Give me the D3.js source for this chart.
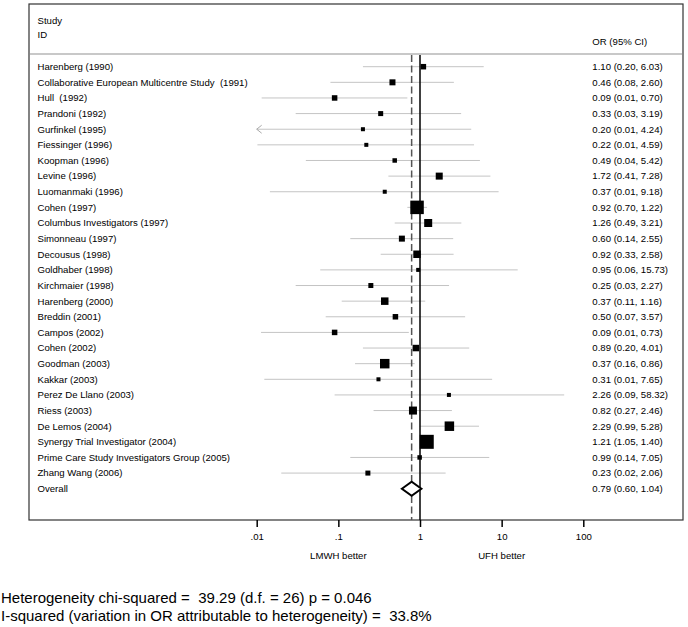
<!DOCTYPE html>
<html><head><meta charset="utf-8">
<script src="https://cdn.jsdelivr.net/npm/d3@7"></script>
<style>
html,body{margin:0;padding:0;background:#fff;}
text{font-family:"Liberation Sans",Arial,sans-serif;white-space:pre;}
</style></head>
<body><svg id="c" width="688" height="627"></svg>
<script>
const studies = ["Harenberg (1990)","Collaborative European Multicentre Study  (1991)","Hull  (1992)","Prandoni (1992)","Gurfinkel (1995)","Fiessinger (1996)","Koopman (1996)","Levine (1996)","Luomanmaki (1996)","Cohen (1997)","Columbus Investigators (1997)","Simonneau (1997)","Decousus (1998)","Goldhaber (1998)","Kirchmaier (1998)","Harenberg (2000)","Breddin (2001)","Campos (2002)","Cohen (2002)","Goodman (2003)","Kakkar (2003)","Perez De Llano (2003)","Riess (2003)","De Lemos (2004)","Synergy Trial Investigator (2004)","Prime Care Study Investigators Group (2005)","Zhang Wang (2006)"];
const or = [1.10,0.46,0.09,0.33,0.20,0.22,0.49,1.72,0.37,0.92,1.26,0.60,0.92,0.95,0.25,0.37,0.50,0.09,0.89,0.37,0.31,2.26,0.82,2.29,1.21,0.99,0.23];
const lo = [0.20,0.08,0.0115,0.03,0.0096,0.0102,0.04,0.41,0.0145,0.70,0.49,0.14,0.33,0.06,0.03,0.11,0.07,0.0113,0.20,0.16,0.0124,0.09,0.27,0.99,1.05,0.14,0.02];
const hi = [6.03,2.60,0.70,3.19,4.24,4.59,5.42,7.28,9.18,1.22,3.21,2.55,2.58,15.73,2.27,1.16,3.57,0.73,4.01,0.86,7.65,58.32,2.46,5.28,1.40,7.05,2.06];
const weights = [2.34,2.78,2.34,1.93,1.24,1.24,1.56,3.78,1.24,14.07,4.94,2.78,4.34,1.24,1.93,4.34,2.34,2.34,3.26,6.97,1.24,1.24,4.94,6.97,15.14,1.56,1.93];
const overall = {label:"Overall", or:0.79, lo:0.60, hi:1.04};
const tickValues = [0.01,0.1,1,10,100];
const tickLabels = [".01",".1","1","10","100"];
const headerLeft = ["Study","ID"];
const headerRight = "OR (95% CI)";
const favourLabels = [{at:0.1,text:"LMWH better"},{at:10,text:"UFH better"}];
const footnotes = ["Heterogeneity chi-squared =  39.29 (d.f. = 26) p = 0.046","I-squared (variation in OR attributable to heterogeneity) =  33.8%"];

const svg = d3.select("#c");
const fmt = d3.format(".2f");
const boxL = 29, boxR = 683, boxT = 4, axisY = 520;
const x = d3.scaleLog().domain([0.01,100]).range([256.7,583.3]);
const nRows = studies.length + 1;
const y = d3.scaleLinear().domain([0, nRows-1]).range([66.7, 66.7 + 15.63*(nRows-1)]);
const sz = d3.scaleSqrt().domain([0, 15.14]).range([0, 14]);
const fs = 9.6;

// box
svg.append("rect").attr("x",boxL).attr("y",boxT).attr("width",boxR-boxL).attr("height",axisY-boxT)
  .attr("fill","none").attr("stroke","#333").attr("stroke-width",1.2);
// header separator
svg.append("line").attr("x1",boxL+1).attr("x2",boxR-1).attr("y1",54).attr("y2",54)
  .attr("stroke","#c8c8c8").attr("stroke-width",2);
// headers
svg.append("text").attr("x",37.5).attr("y",20.7).attr("dy","0.35em").attr("font-size",fs).text(headerLeft[0]);
svg.append("text").attr("x",37.5).attr("y",34.5).attr("dy","0.35em").attr("font-size",fs).text(headerLeft[1]);
svg.append("text").attr("x",592.3).attr("y",41.7).attr("dy","0.35em").attr("font-size",fs).text(headerRight);

const rows = studies.map((s,i)=>({s, or:or[i], lo:lo[i], hi:hi[i], w:weights[i], i}));
const xmin = x.domain()[0], xmax = x.domain()[1];

// CI lines
const g = svg.append("g");
rows.forEach(d=>{
  const l = Math.max(d.lo, xmin), h = Math.min(d.hi, xmax);
  g.append("line").attr("x1",x(l)).attr("x2",x(h)).attr("y1",y(d.i)).attr("y2",y(d.i))
    .attr("stroke","#c4c4c4").attr("stroke-width",1);
  if (d.lo < xmin) {
    const ax = x(xmin), ay = y(d.i);
    g.append("path").attr("d",`M${ax+5},${ay-4}L${ax},${ay}L${ax+5},${ay+4}`)
      .attr("fill","none").attr("stroke","#aaa").attr("stroke-width",1);
  }
});

// reference lines
svg.append("line").attr("x1",x(1)).attr("x2",x(1)).attr("y1",55).attr("y2",axisY)
  .attr("stroke","#000").attr("stroke-width",1.5);
svg.append("line").attr("x1",x(overall.or)).attr("x2",x(overall.or)).attr("y1",55).attr("y2",axisY)
  .attr("stroke","#555").attr("stroke-width",1.5).attr("stroke-dasharray","7,3.5");

// squares
rows.forEach(d=>{
  const s = sz(d.w);
  svg.append("rect").attr("x",x(d.or)-s/2).attr("y",y(d.i)-s/2).attr("width",s).attr("height",s).attr("fill","#000");
});

// diamond
const oy = y(nRows-1), dh = 7;
svg.append("path").attr("d",`M${x(overall.lo)},${oy}L${x(overall.or)},${oy-dh}L${x(overall.hi)},${oy}L${x(overall.or)},${oy+dh}Z`)
  .attr("fill","#fff").attr("stroke","#000").attr("stroke-width",2);

// labels
rows.forEach(d=>{
  svg.append("text").attr("x",37.5).attr("y",y(d.i)).attr("dy","0.35em").attr("font-size",fs).text(d.s);
  svg.append("text").attr("x",592.3).attr("y",y(d.i)).attr("dy","0.35em").attr("font-size",fs)
    .text(`${fmt(d.or)} (${fmt(d.lo)}, ${fmt(d.hi)})`);
});
svg.append("text").attr("x",37.5).attr("y",oy).attr("dy","0.35em").attr("font-size",fs).text(overall.label);
svg.append("text").attr("x",592.3).attr("y",oy).attr("dy","0.35em").attr("font-size",fs)
  .text(`${fmt(overall.or)} (${fmt(overall.lo)}, ${fmt(overall.hi)})`);

// axis
const axis = d3.axisBottom(x).tickValues(tickValues).tickFormat((d,i)=>tickLabels[i]).tickSize(7).tickPadding(6);
const ag = svg.append("g").attr("transform",`translate(0,${axisY})`).call(axis);
ag.select(".domain").remove();
ag.selectAll(".tick line").attr("stroke","#000").attr("stroke-width",1.5);
ag.selectAll(".tick text").attr("font-size",fs).attr("font-family","Liberation Sans, Arial, sans-serif").attr("fill","#000");

favourLabels.forEach(f=>{
  svg.append("text").attr("x",x(f.at)).attr("y",556).attr("dy","0.35em").attr("text-anchor","middle").attr("font-size",fs).text(f.text);
});

// footnotes
footnotes.forEach((t,i)=>{
  svg.append("text").attr("x",1).attr("y",598+i*18).attr("dy","0.35em").attr("font-size",15).text(t);
});
</script></body></html>
